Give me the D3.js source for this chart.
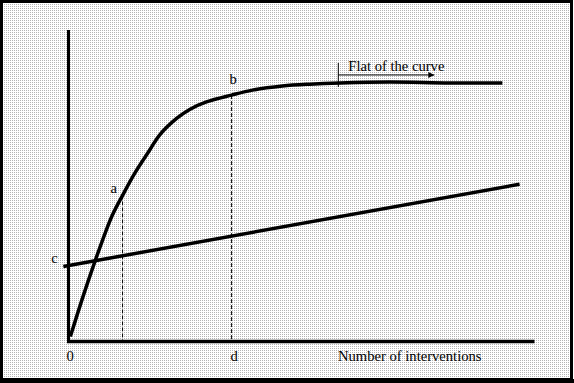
<!DOCTYPE html>
<html><head><meta charset="utf-8">
<script src="https://cdn.jsdelivr.net/npm/d3@7"></script>
<style>html,body{margin:0;padding:0;background:#fff}svg{display:block}</style>
</head><body>
<script>
// Data (x: number of interventions, y: outcome), arbitrary units 0..100
const curveX = [0.4, 3.2, 5.6, 7.3, 9.4, 11.6, 14.2, 17.4, 19.5, 23.2, 26.0, 29.6, 35.0, 39.5, 45.9, 51.7, 58.2, 68.9, 81.8, 93.1];
const curveY = [1.6, 14.8, 25.4, 32.5, 40.5, 46.9, 54.0, 61.4, 66.2, 71.6, 74.5, 76.9, 79.1, 80.7, 82.0, 82.6, 83.0, 83.3, 83.0, 83.0];
const lineX = [-1.1, 96.8];
const lineY = [24.1, 50.5];
const pointLabels = ["a", "b"];
const pointX = [11.6, 35.0];
const pointY = [46.9, 79.1];
const flatStart = 57.9, flatEnd = 78.5;
const axisLabels = ["0", "d", "Number of interventions"];
const cLabel = "c";
const flatLabel = "Flat of the curve";

const W = 574, H = 383;
const svg = d3.select("body").append("svg").attr("width", W).attr("height", H);
const defs = svg.append("defs");
const pat = defs.append("pattern").attr("id","dots").attr("width",2).attr("height",2).attr("patternUnits","userSpaceOnUse");
pat.append("rect").attr("width",2).attr("height",2).attr("fill","#fff");
pat.append("rect").attr("width",1).attr("height",1).attr("fill","#b4b4b4");

svg.append("rect").attr("x",1.5).attr("y",1.5).attr("width",570).attr("height",378)
  .attr("fill","url(#dots)").attr("stroke","#000").attr("stroke-width",3);
svg.append("line").attr("x1",0).attr("x2",W).attr("y1",381).attr("y2",381).attr("stroke","#000").attr("stroke-width",4);

const x = d3.scaleLinear().domain([0,100]).range([68.5,534.5]);
const y = d3.scaleLinear().domain([0,100]).range([341.5,30]);

const g = svg.append("g");
// axes
g.append("line").attr("x1",x(0)).attr("x2",x(0)).attr("y1",y(100)).attr("y2",y(0)+1.5).attr("stroke","#000").attr("stroke-width",3);
g.append("line").attr("x1",x(0)-1.5).attr("x2",x(100)).attr("y1",y(0)).attr("y2",y(0)).attr("stroke","#000").attr("stroke-width",3.5);

// dashed verticals
pointX.forEach((px,i)=>{
  g.append("line").attr("x1",x(px)).attr("x2",x(px)).attr("y1",y(pointY[i])).attr("y2",y(0))
   .attr("stroke","#000").attr("stroke-width",1).attr("stroke-dasharray","4,2");
});

// straight line c
g.append("line").attr("x1",x(lineX[0])).attr("y1",y(lineY[0])).attr("x2",x(lineX[1])).attr("y2",y(lineY[1]))
  .attr("stroke","#000").attr("stroke-width",3.5);

// curve
const pts = curveX.map((v,i)=>[v,curveY[i]]);
g.append("path").datum(pts)
  .attr("d", d3.line().x(d=>x(d[0])).y(d=>y(d[1])).curve(d3.curveCatmullRom.alpha(0.5)))
  .attr("fill","none").attr("stroke","#000").attr("stroke-width",3.5);

// flat of the curve marker
defs.append("marker").attr("id","arr").attr("viewBox","0 0 10 10").attr("refX",10).attr("refY",5)
  .attr("markerWidth",8).attr("markerHeight",6).attr("markerUnits","userSpaceOnUse").attr("orient","auto")
  .append("path").attr("d","M0,0L10,5L0,10Z").attr("fill","#000");
g.append("line").attr("x1",x(flatStart)).attr("x2",x(flatStart)).attr("y1",y(83)-20).attr("y2",y(83)+4)
  .attr("stroke","#000").attr("stroke-width",1);
g.append("line").attr("x1",x(flatStart)).attr("x2",x(flatEnd)).attr("y1",y(83)-8).attr("y2",y(83)-8)
  .attr("stroke","#000").attr("stroke-width",1).attr("marker-end","url(#arr)");

const font = "'Liberation Serif','Times New Roman',serif";
const txt = (s,tx,ty,anchor)=>g.append("text").attr("x",tx).attr("y",ty).attr("text-anchor",anchor||"start")
  .attr("font-family",font).attr("font-size",14.6).attr("fill","#000").text(s);

txt(flatLabel, x(flatStart)+10, y(83)-12);
txt(pointLabels[0], x(pointX[0])-12, y(pointY[0])-2);
txt(pointLabels[1], x(pointX[1])-2, y(pointY[1])-11);
txt(cLabel, x(lineX[0])-12, y(lineY[0])-3);
txt(axisLabels[0], x(0)-2, y(0)+19);
txt(axisLabels[1], x(pointX[1])-1, y(0)+19);
txt(axisLabels[2], 338, y(0)+19);
</script>
</body></html>
